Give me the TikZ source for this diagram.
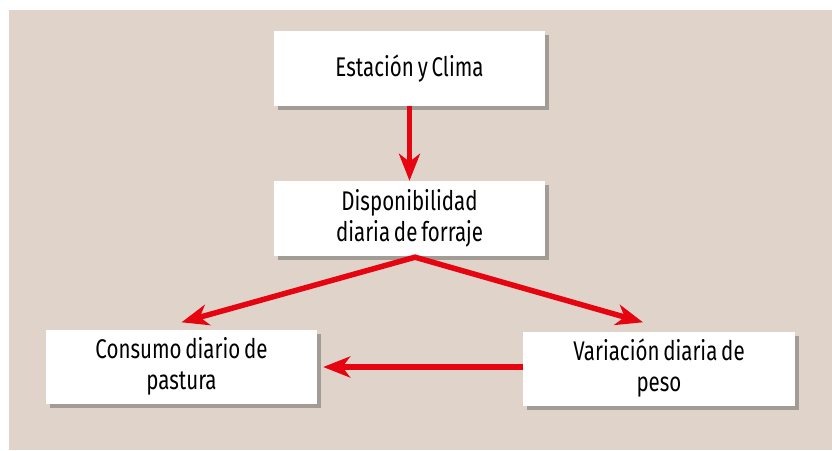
\documentclass[tikz,border=0pt]{standalone}
\usepackage{fontspec}
\setmainfont[FakeStretch=0.76, WordSpace=0.7]{Fira Sans}
\usetikzlibrary{arrows.meta,shadows}
\definecolor{bgc}{RGB}{224,211,202}
\definecolor{arr}{RGB}{230,4,16}
\tikzset{
  box/.style={rectangle, fill=white, minimum width=271pt, minimum height=75pt,
    inner sep=0pt, align=center, font=\fontsize{27}{31}\selectfont,
    drop shadow={shadow xshift=4pt, shadow yshift=-4pt, fill=black!60, opacity=0.5}},
  link/.style={draw=arr, line width=5.5pt,
    -{Stealth[length=27pt, width=21pt, inset=8pt]}}
}
\begin{document}
\begin{tikzpicture}[x=1pt, y=-1pt]
\useasboundingbox (0,0) rectangle (832,450);
\fill[white] (0,0) rectangle (832,450);
\fill[bgc] (9,10) rectangle (832,450);
\node[box] (clima) at (409.5,68.5) {Estación y Clima};
\node[box] (forraje) at (409.5,218.5) {Disponibilidad\\diaria de forraje};
\node[box, minimum height=74pt] (consumo) at (181.5,366.5) {Consumo diario de\\pastura};
\node[box, minimum width=272pt, minimum height=74pt] (peso) at (659,368.5) {Variación diaria de\\peso};
\coordinate (apex) at ([xshift=5.5pt, yshift=-1pt]forraje.south);
\coordinate (t3) at ([yshift=7pt]consumo.north);
\coordinate (t4) at ([xshift=-16pt, yshift=9pt]peso.north);
\coordinate (t5) at ([xshift=6pt]consumo.east);
\draw[link] (clima.south) -- (forraje.north);
\draw[link, line cap=round] (apex) -- (t3);
\draw[link, line cap=round] (apex) -- (t4);
\draw[link] ([yshift=1.5pt]peso.west) -- ([yshift=1.5pt]peso.west -| t5);
\end{tikzpicture}
\end{document}
